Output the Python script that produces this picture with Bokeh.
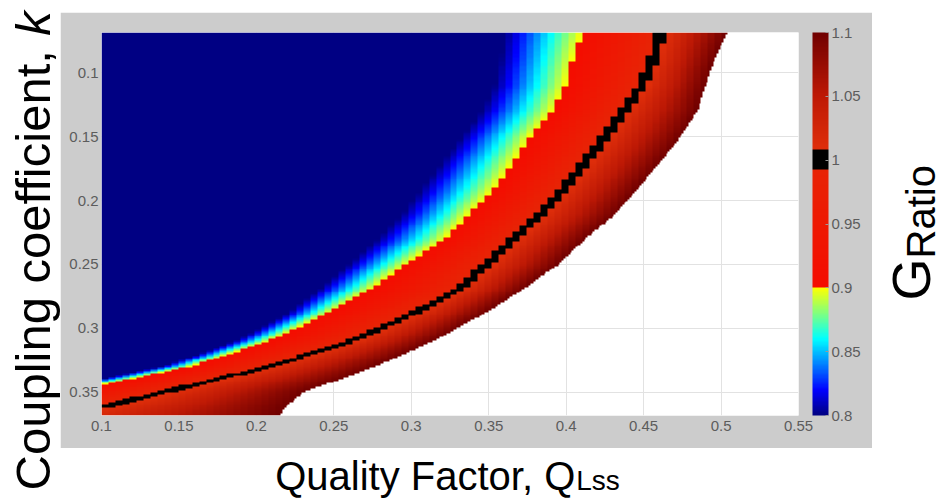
import numpy as np
from math import pi
from bokeh.plotting import figure
from bokeh.layouts import row, column
from bokeh.models import (LinearColorMapper, ColorBar, Label, Spacer,
                          FixedTicker, Range1d, NumeralTickFormatter)
from bokeh.embed import file_html
from bokeh.resources import INLINE

# ---------------- data ----------------
# rows of coupling coefficient k at which the contour positions were read
K_ROWS = [0.07, 0.09, 0.11, 0.13, 0.15, 0.17, 0.19, 0.21, 0.23, 0.25,
          0.27, 0.29, 0.31, 0.33, 0.35, 0.36, 0.37]
# quality factor Q_Lss where G_Ratio reaches 0.8 / 0.9 / 1.0 / 1.1 in each row
Q_AT_080 = [0.3601, 0.3576, 0.3537, 0.3453, 0.3330, 0.3195, 0.3066, 0.2943, 0.2782,
            0.2595, 0.2401, 0.2181, 0.1872, 0.1394, 0.0580, 0.0193, -0.0227]
Q_AT_090 = [0.4099, 0.4041, 0.3996, 0.3912, 0.3770, 0.3660, 0.3544, 0.3382, 0.3214,
            0.2963, 0.2730, 0.2433, 0.2085, 0.1575, 0.0768, 0.0348, -0.0104]
Q_AT_100 = [0.4609, 0.4557, 0.4486, 0.4364, 0.4247, 0.4118, 0.3983, 0.3834, 0.3660,
            0.3492, 0.3305, 0.2982, 0.2614, 0.2078, 0.1387, 0.1039, 0.0638]
Q_AT_110 = [0.5035, 0.4958, 0.4900, 0.4848, 0.4738, 0.4609, 0.4467, 0.4325, 0.4125,
            0.3950, 0.3718, 0.3453, 0.3144, 0.2769, 0.2311, 0.2201, 0.2143]
G_LEVELS = [0.8, 0.9, 1.0, 1.1]

X_TICKS = [0.1, 0.15, 0.2, 0.25, 0.3, 0.35, 0.4, 0.45, 0.5, 0.55]
Y_TICKS = [0.1, 0.15, 0.2, 0.25, 0.3, 0.35]
CB_TICKS = [0.8, 0.85, 0.9, 0.95, 1.0, 1.05, 1.1]

Q_MIN, Q_MAX = 0.1, 0.55
K_TOP, K_BOT = 0.0683, 0.3684
N_Q = 100          # data columns (cell width of the original map)
N_K = 200          # data rows
SUB = 4            # display sub-columns per data column (smooth white edge)

# ---------------- grid of cells ----------------
n_fine = N_Q * SUB
dq = (Q_MAX - Q_MIN) / N_Q
q_fine = Q_MIN + (np.arange(n_fine) + 0.5) * (Q_MAX - Q_MIN) / n_fine
q_cell = Q_MIN + (np.floor((q_fine - Q_MIN) / dq) + 0.5) * dq
kc = K_TOP + (np.arange(N_K) + 0.5) * (K_BOT - K_TOP) / N_K
G = np.full((N_K, n_fine), np.nan)
for i, k in enumerate(kc):
    xp = [float(np.interp(k, K_ROWS, arr)) for arr in (Q_AT_080, Q_AT_090, Q_AT_100, Q_AT_110)]
    vals = np.interp(q_cell, xp, G_LEVELS, left=G_LEVELS[0], right=G_LEVELS[-1])
    vals[q_fine > xp[-1]] = np.nan
    G[i] = vals

# ---------------- colour map (jet up to yellow, then reds, black at 1) ----------------
def jet(t):
    r = min(max(1.5 - abs(4 * t - 3), 0), 1)
    g = min(max(1.5 - abs(4 * t - 2), 0), 1)
    b = min(max(1.5 - abs(4 * t - 1), 0), 1)
    return (r * 255, g * 255, b * 255)

RED_ANCH = [(0.9, (245, 12, 0)), (0.99, (232, 35, 5)), (1.01, (222, 45, 10)),
            (1.05, (190, 25, 5)), (1.1, (112, 0, 0))]

def red(v):
    for (v0, c0), (v1, c1) in zip(RED_ANCH[:-1], RED_ANCH[1:]):
        if v <= v1:
            f = (v - v0) / (v1 - v0)
            return tuple(a + (b - a) * f for a, b in zip(c0, c1))
    return RED_ANCH[-1][1]

palette = []
NPAL = 300
for n in range(NPAL):
    v = 0.8 + (n + 0.5) * 0.3 / NPAL
    if v < 0.9:
        c = jet((v - 0.8) / 0.1 * 0.625)
    elif 0.993 <= v < 1.008:
        c = (0, 0, 0)
    else:
        c = red(v)
    palette.append("#%02x%02x%02x" % tuple(int(round(x)) for x in c))

mapper = LinearColorMapper(palette=palette, low=0.8, high=1.1,
                           nan_color="rgba(0,0,0,0)", low_color=palette[0],
                           high_color=palette[-1])

GRAY = "#cccccc"
FONT = "Liberation Sans"

# ---------------- main heat-map figure (grey panel) ----------------
MW, MH = 812, 436
p = figure(width=MW, height=MH, output_backend="svg", toolbar_location=None,
           title=None, x_range=Range1d(Q_MIN, Q_MAX), y_range=Range1d(K_BOT, K_TOP),
           min_border_left=41, min_border_top=20, min_border_right=74,
           min_border_bottom=33)
p.outline_line_color = None
p.background_fill_color = "white"
p.border_fill_color = GRAY

p.image(image=[G], x=Q_MIN, y=K_TOP, dw=Q_MAX - Q_MIN, dh=K_BOT - K_TOP,
        color_mapper=mapper, level="glyph")

fmt = NumeralTickFormatter(format="0.[00]")
for ax, ticks in ((p.xaxis[0], X_TICKS), (p.yaxis[0], Y_TICKS)):
    ax.ticker = FixedTicker(ticks=ticks)
    ax.formatter = fmt
    ax.axis_line_color = None
    ax.minor_tick_line_color = None
    ax.major_tick_line_color = None
    ax.major_tick_in = 0
    ax.major_tick_out = 0
    ax.major_label_text_font = FONT
    ax.major_label_text_font_size = "15px"
    ax.major_label_text_color = "#5c5c5c"
p.xaxis.major_label_standoff = 5
p.yaxis.major_label_standoff = 3

p.xgrid.ticker = FixedTicker(ticks=X_TICKS)
p.ygrid.ticker = FixedTicker(ticks=Y_TICKS)
p.grid.grid_line_color = "#e2e2e2"
p.grid.level = "underlay"

cb = ColorBar(color_mapper=mapper, ticker=FixedTicker(ticks=CB_TICKS), formatter=fmt,
              width=16, height=383, location=(14, 0), padding=0, margin=0,
              background_fill_color=GRAY, background_fill_alpha=1,
              border_line_color=None, bar_line_color=None,
              major_label_text_font=FONT, major_label_text_font_size="15px",
              major_label_text_color="#5c5c5c", major_tick_line_color="#9a9a9a",
              major_tick_in=3, major_tick_out=0, minor_tick_line_color=None,
              label_standoff=3)
p.add_layout(cb, "right")

# ---------------- white side pieces that carry the big titles ----------------
def blank(w, h):
    f = figure(width=w, height=h, output_backend="svg", toolbar_location=None,
               title=None, x_range=Range1d(0, w), y_range=Range1d(0, h),
               x_axis_type=None, y_axis_type=None, min_border=0)
    f.outline_line_color = None
    f.grid.visible = False
    f.background_fill_color = "white"
    f.border_fill_color = "white"
    return f

SHIFT = 0.37   # label anchor sits at the text's middle; baseline is this many em lower

def hlab(f, x, base_y, text, size, align="left", style="normal"):
    f.add_layout(Label(x=x, y=base_y + SHIFT * size, text=text, text_font=FONT,
                       text_font_size="%spx" % size, text_font_style=style,
                       text_color="black", text_align=align,
                       text_baseline="alphabetic"))

def vlab(f, base_x, y, text, size, style="normal"):
    f.add_layout(Label(x=base_x - SHIFT * size, y=y, text=text, angle=pi / 2,
                       text_font=FONT, text_font_size="%spx" % size,
                       text_font_style=style, text_color="black",
                       text_align="left", text_baseline="alphabetic"))

left = blank(60, 504)
vlab(left, 51, 14, "Coupling coefficient,", 49)
vlab(left, 51, 14 + 9.282 * 49, "k", 49, "italic")

bottom = blank(812, 56)
JOIN = 552   # where "Q" ends and the smaller "Lss" starts
hlab(bottom, JOIN, 14, "Quality Factor, Q", 40, align="right")
hlab(bottom, JOIN + 1, 14, "Lss", 28, align="left")

right = blank(70, 504)
vlab(right, 58, 204, "G", 54)
vlab(right, 63, 246, "Ratio", 40)

layout = row(left, column(Spacer(width=812, height=12), p, bottom, spacing=0), right,
             spacing=0)

open("out.html", "w").write(file_html(layout, INLINE))
